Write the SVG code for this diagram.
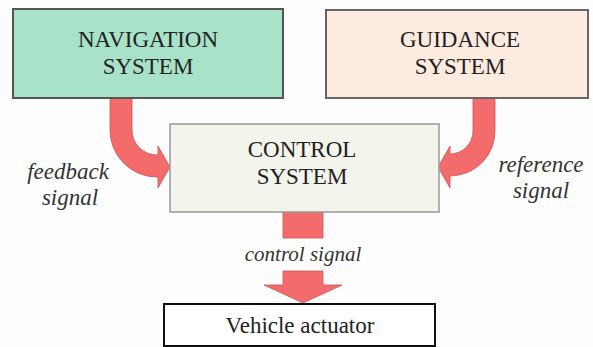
<svg xmlns="http://www.w3.org/2000/svg" width="593" height="347" viewBox="0 0 593 347">
<style>
.box{stroke-width:2}
.t{font-family:"Liberation Serif","Times New Roman",serif;font-size:23px;fill:#222;text-anchor:middle}
.i{font-style:italic;fill:#333}
.arr{fill:#F36B6B;stroke:#C85555;stroke-width:0.8;stroke-linejoin:round}
</style>
<rect x="0" y="0" width="593" height="347" fill="#fdfdfd"/>
<g id="connectors">
<path class="arr" d="M110,98 L132,98 L132,130 A25,25 0 0 0 157,155 L158,155 L158,146 L170,167 L158,188 L158,177 L157,177 A47,47 0 0 1 110,130 Z"/>
<path class="arr" d="M473,98 L495,98 L495,131 A45,45 0 0 1 450,176 L450,188 L438,167 L450,146 L450,154 A23,23 0 0 0 473,131 Z"/>
<rect class="arr" x="283" y="212" width="40" height="26"/>
<path class="arr" d="M283,271 L323,271 L323,285 L342,285 L303,303 L264,285 L283,285 Z"/>
</g>
<g id="navigation">
<rect class="box" x="13" y="9" width="270" height="89" fill="#A8E2C8" stroke="#555"/>
<text class="t" x="148" y="47">NAVIGATION</text>
<text class="t" x="148" y="74">SYSTEM</text>
</g>
<g id="guidance">
<rect class="box" x="326" y="10" width="262" height="88" fill="#FDEBE0" stroke="#666"/>
<text class="t" x="460" y="47">GUIDANCE</text>
<text class="t" x="460" y="74">SYSTEM</text>
</g>
<g id="control">
<rect x="170" y="124" width="269" height="88" fill="#F3F4EC" stroke="#999" stroke-width="1.5"/>
<text class="t" x="302" y="157">CONTROL</text>
<text class="t" x="302" y="184">SYSTEM</text>
</g>
<g id="actuator">
<rect x="164" y="304" width="271" height="42" fill="#fff" stroke="#111" stroke-width="2"/>
<text class="t" x="300" y="333">Vehicle actuator</text>
</g>
<g id="labels">
<text class="t i" x="68" y="179">feedback</text>
<text class="t i" x="70" y="205">signal</text>
<text class="t i" x="541" y="172">reference</text>
<text class="t i" x="541" y="198">signal</text>
<text class="t i" x="303" y="261" style="font-size:21px">control signal</text>
</g>
</svg>
